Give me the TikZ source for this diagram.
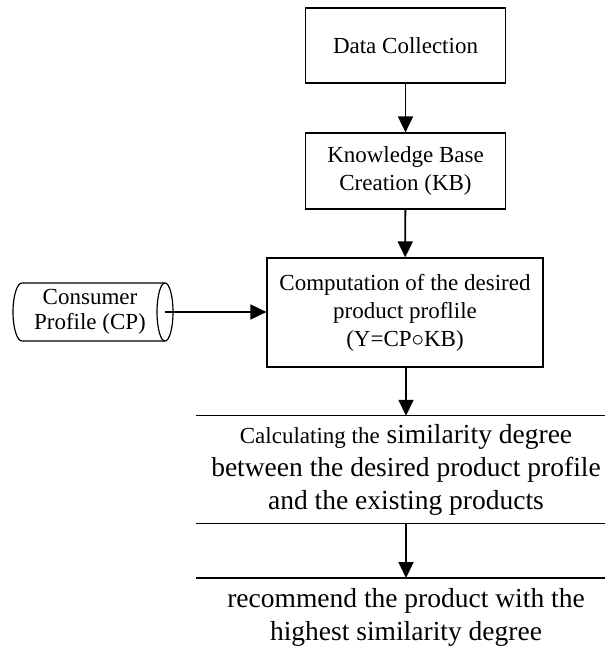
\documentclass[tikz,border=0pt]{standalone}
\usepackage{fontspec}
\setmainfont{Liberation Serif}
\usetikzlibrary{arrows.meta}
\begin{document}
\begin{tikzpicture}[x=1pt,y=1pt,
  box/.style={draw, line width=1.2pt, rectangle, inner sep=0pt, align=center,
              font=\fontsize{23}{28}\selectfont},
  wide/.style={rectangle, inner sep=0pt, align=center,
               font=\fontsize{27.5}{33}\selectfont},
  flow/.style={line width=1.8pt, -{Triangle[length=16pt,width=15pt]}},
  edge/.style={line width=1.2pt}]
\useasboundingbox (0,0) rectangle (604,-652);

% process boxes
\node[box, minimum width=200pt, minimum height=75pt] (dc) at (405.5,-45.5) {Data Collection};
\node[box, minimum width=200pt, minimum height=76pt] (kb) at (405.5,-171) {Knowledge Base\\Creation (KB)};
\node[box, minimum width=276pt, minimum height=109pt] (comp) at (405,-312.5)
  {Computation of the desired\\product proflile\\(Y=CP$\circ$KB)};

% wide boxes, only their horizontal edges fall inside the page
\node[wide, minimum width=420pt, minimum height=107pt] (calc) at (406,-469.5)
  {{\fontsize{23}{33}\selectfont Calculating the} similarity degree\\
   between the desired product profile\\and the existing products};
\draw[edge] (calc.north west) -- (calc.north east);
\draw[edge] (calc.south west) -- (calc.south east);

\coordinate (recw) at (196,-578);
\coordinate (rece) at (616,-578);
\coordinate (rectop) at (406,-578);
\draw[edge] (recw) -- (rece);
\node[wide] (rec) at (406,-617) {recommend the product with the\\highest similarity degree};

% consumer profile store (horizontal cylinder)
\draw[edge] (165,-283) -- (22,-283)
  arc[start angle=90, end angle=270, x radius=9, y radius=29] -- (165,-341);
\draw[edge] (165,-312) ellipse[x radius=8, y radius=29];
\coordinate (cpaxis) at (165,-312);
\node[align=center, inner sep=0pt, font=\fontsize{23}{25}\selectfont] (cp) at (90,-312)
  {Consumer\\Profile (CP)};

% flow
\draw[flow] (dc) -- (kb);
\draw[flow] (kb) -- (comp);
\draw[flow] (cpaxis) -- (comp.west |- cpaxis);
\draw[flow] (comp.south -| calc.north) -- (calc.north);
\draw[flow] (calc.south) -- (rectop);
\end{tikzpicture}
\end{document}
